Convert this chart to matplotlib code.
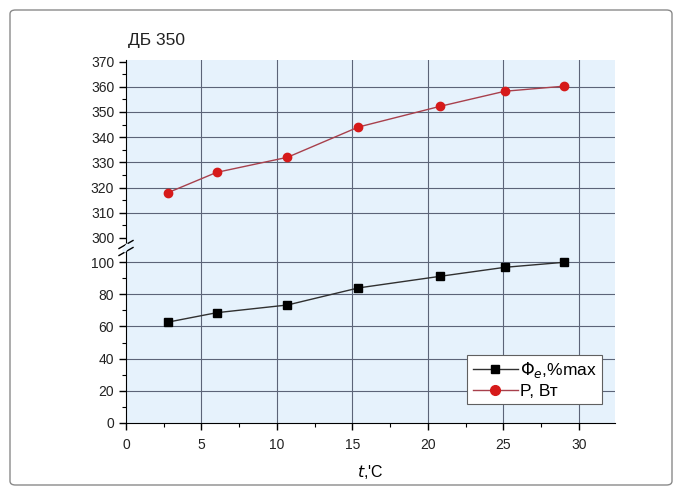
import matplotlib.pyplot as plt
from matplotlib.patches import FancyBboxPatch
from matplotlib.lines import Line2D
from matplotlib.ticker import MultipleLocator

plt.rcParams.update({'font.family': 'Liberation Sans', 'font.size': 10})

# data
t_c = [2.8, 6.0, 10.7, 15.4, 20.8, 25.1, 29.0]
flux_pct = [62.7, 68.5, 73.3, 83.9, 91.1, 96.7, 99.8]
power_w = [318, 326, 332, 344, 352.2, 358.2, 360.2]

bg = '#e6f2fc'
grid_col = '#5c6478'
red_line = '#a8404c'
red_mark = '#d61a1a'

fig = plt.figure(figsize=(6.82, 4.95), dpi=100)

# outer rounded frame
frame = FancyBboxPatch((10 / 682, 10 / 495), 662 / 682, 475 / 495,
                       boxstyle='round,pad=0,rounding_size=0.008',
                       transform=fig.transFigure, fill=False,
                       edgecolor='#8a8a8a', linewidth=1.0)
fig.patches.append(frame)

left, right = 126 / 682, 615 / 682
y_bot, y_brk, y_top = 1 - 423 / 495, 1 - 248 / 495, 1 - 60 / 495

ax_lo = fig.add_axes([left, y_bot, right - left, y_brk - y_bot])
ax_hi = fig.add_axes([left, y_brk, right - left, y_top - y_brk], sharex=ax_lo)

for ax in (ax_lo, ax_hi):
    ax.set_facecolor(bg)
    ax.spines['right'].set_visible(False)
    ax.spines['top'].set_visible(False)
    ax.spines['bottom'].set_visible(False)
    ax.tick_params(which='major', direction='out', length=5, width=1, color='black',
                   labelcolor='#222222')
    ax.tick_params(which='minor', direction='out', length=3, width=0.8, color='black')
    ax.set_axisbelow(True)

ax_lo.spines['bottom'].set_visible(True)

ax_lo.set_xlim(0, 32.4)
ax_lo.xaxis.set_major_locator(MultipleLocator(5))
ax_lo.xaxis.set_minor_locator(MultipleLocator(2.5))
ax_lo.tick_params(axis='x', pad=6)
ax_hi.tick_params(axis='x', which='both', bottom=False, labelbottom=False)

ax_lo.set_ylim(0, 108.7)
ax_lo.yaxis.set_major_locator(MultipleLocator(20))
ax_lo.yaxis.set_minor_locator(MultipleLocator(10))

ax_hi.set_ylim(296, 370.6)
ax_hi.yaxis.set_major_locator(MultipleLocator(10))
ax_hi.yaxis.set_minor_locator(MultipleLocator(5))

# grid lines (no line at 300 / 370 / 0)
for xv in range(5, 31, 5):
    ax_lo.axvline(xv, color=grid_col, linewidth=0.8, zorder=0.5)
    ax_hi.axvline(xv, color=grid_col, linewidth=0.8, zorder=0.5)
for yv in range(20, 101, 20):
    ax_lo.axhline(yv, color=grid_col, linewidth=0.8, zorder=0.5)
for yv in range(310, 361, 10):
    ax_hi.axhline(yv, color=grid_col, linewidth=0.8, zorder=0.5)

ax_lo.plot(t_c, flux_pct, color='#303030', linewidth=1.0, marker='s',
           markersize=5.5, markerfacecolor='black', markeredgecolor='black')
ax_hi.plot(t_c, power_w, color=red_line, linewidth=1.0, marker='o',
           markersize=6, markerfacecolor=red_mark, markeredgecolor=red_mark)

ax_lo.set_xlabel("$t$,'C", fontsize=11.5, labelpad=8)

fig.text(left + 2 / 682, 1 - 40 / 495, 'ДБ 350', fontsize=12.5,
         fontweight='normal', va='center', ha='left', color='#222222')

# axis break mark
yb = 1 - 248 / 495
for dy in (-3.5 / 495, 3.5 / 495):
    fig.add_artist(Line2D([left - 7 / 682, left + 7 / 682],
                          [yb + dy - 4 / 495, yb + dy + 4 / 495],
                          transform=fig.transFigure, color='black', linewidth=1.0))
fig.add_artist(Line2D([left - 0.002, left + 0.002], [yb - 2 / 495, yb + 2 / 495],
                      transform=fig.transFigure, color=bg, linewidth=3))

# legend
h1 = Line2D([], [], color='#303030', marker='s', markersize=6,
            markerfacecolor='black', markeredgecolor='black', linewidth=1.0)
h2 = Line2D([], [], color=red_line, marker='o', markersize=7,
            markerfacecolor=red_mark, markeredgecolor=red_mark, linewidth=1.0)
leg = ax_lo.legend([h1, h2], [r'$\mathit{\Phi}_{e}$,%max', 'P, Вт'],
                   loc='lower right', bbox_to_anchor=(0.974, 0.108),
                   fontsize=12.5, frameon=True, fancybox=False,
                   edgecolor='#606060', framealpha=1, borderpad=0.3,
                   handlelength=2.6, handletextpad=0.15, labelspacing=0.2,
                   borderaxespad=0)
leg.get_frame().set_linewidth(0.8)

fig.savefig('out.png', dpi=100)
